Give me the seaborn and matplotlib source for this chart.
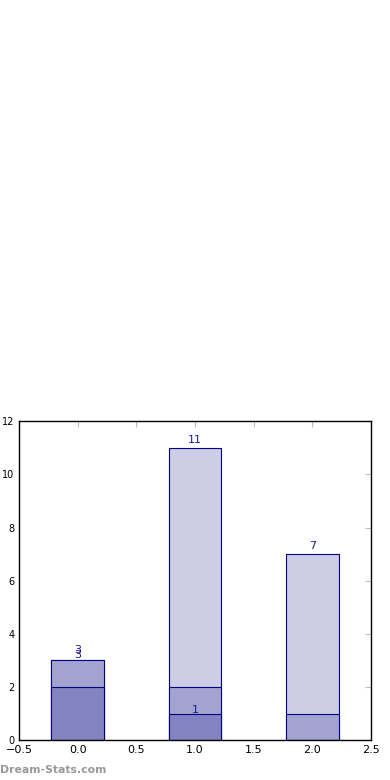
import matplotlib
matplotlib.use("Agg")
import matplotlib.pyplot as plt
import seaborn as sns

# -----------------------------
# Data (stacked layers)
# -----------------------------
positions = [0, 1, 2]
dark = [2, 1, 0]
medium = [1, 1, 1]
light = [0, 9, 6]

medium_top = [d + m for d, m in zip(dark, medium)]
light_top = [t + l for t, l in zip(medium_top, light)]

labels = [(0, 3.02, "3"), (0, 3.2, "3"), (1, 0.95, "1"), (1, 11.1, "11"), (2, 7.1, "7")]

sns.set_style("white")
plt.rcParams['font.family'] = ['DejaVu Sans']

fig = plt.figure(figsize=(3.9, 7.8), dpi=100)
ax = fig.add_axes([0.049, 0.051, 0.902, 0.409])

edge = "#000080"
for tops, col in [(light_top, "#cdcde5"), (medium_top, "#a3a3d0"), (dark, "#8383c2")]:
    sns.barplot(x=positions, y=tops, native_scale=True, width=0.45,
                color=col, saturation=1, edgecolor=edge, linewidth=0.8, ax=ax)

for x, y, t in labels:
    ax.text(x, y, t, ha="center", va="bottom", color="#1a1a99", fontsize=8)

ax.set_xlim(-0.5, 2.5)
ax.set_ylim(0, 12)
ax.set_xticks([-0.5, 0, 0.5, 1, 1.5, 2, 2.5])
ax.set_xticklabels(["\u22120.5", "0.0", "0.5", "1.0", "1.5", "2.0", "2.5"])
ax.set_yticks(range(0, 13, 2))
ax.tick_params(direction="in", length=4, color="#bbbbbb", labelsize=7,
               top=True, right=True, labelcolor="black")
ax.tick_params(axis="x", labelsize=8)
for s in ax.spines.values():
    s.set_color("black")
    s.set_linewidth(1)

fig.text(0.0, 0.006, "Dream-Stats.com", color="#999999", fontsize=7.8,
         fontweight="bold", ha="left", va="bottom")

fig.savefig("out.png", dpi=100)
